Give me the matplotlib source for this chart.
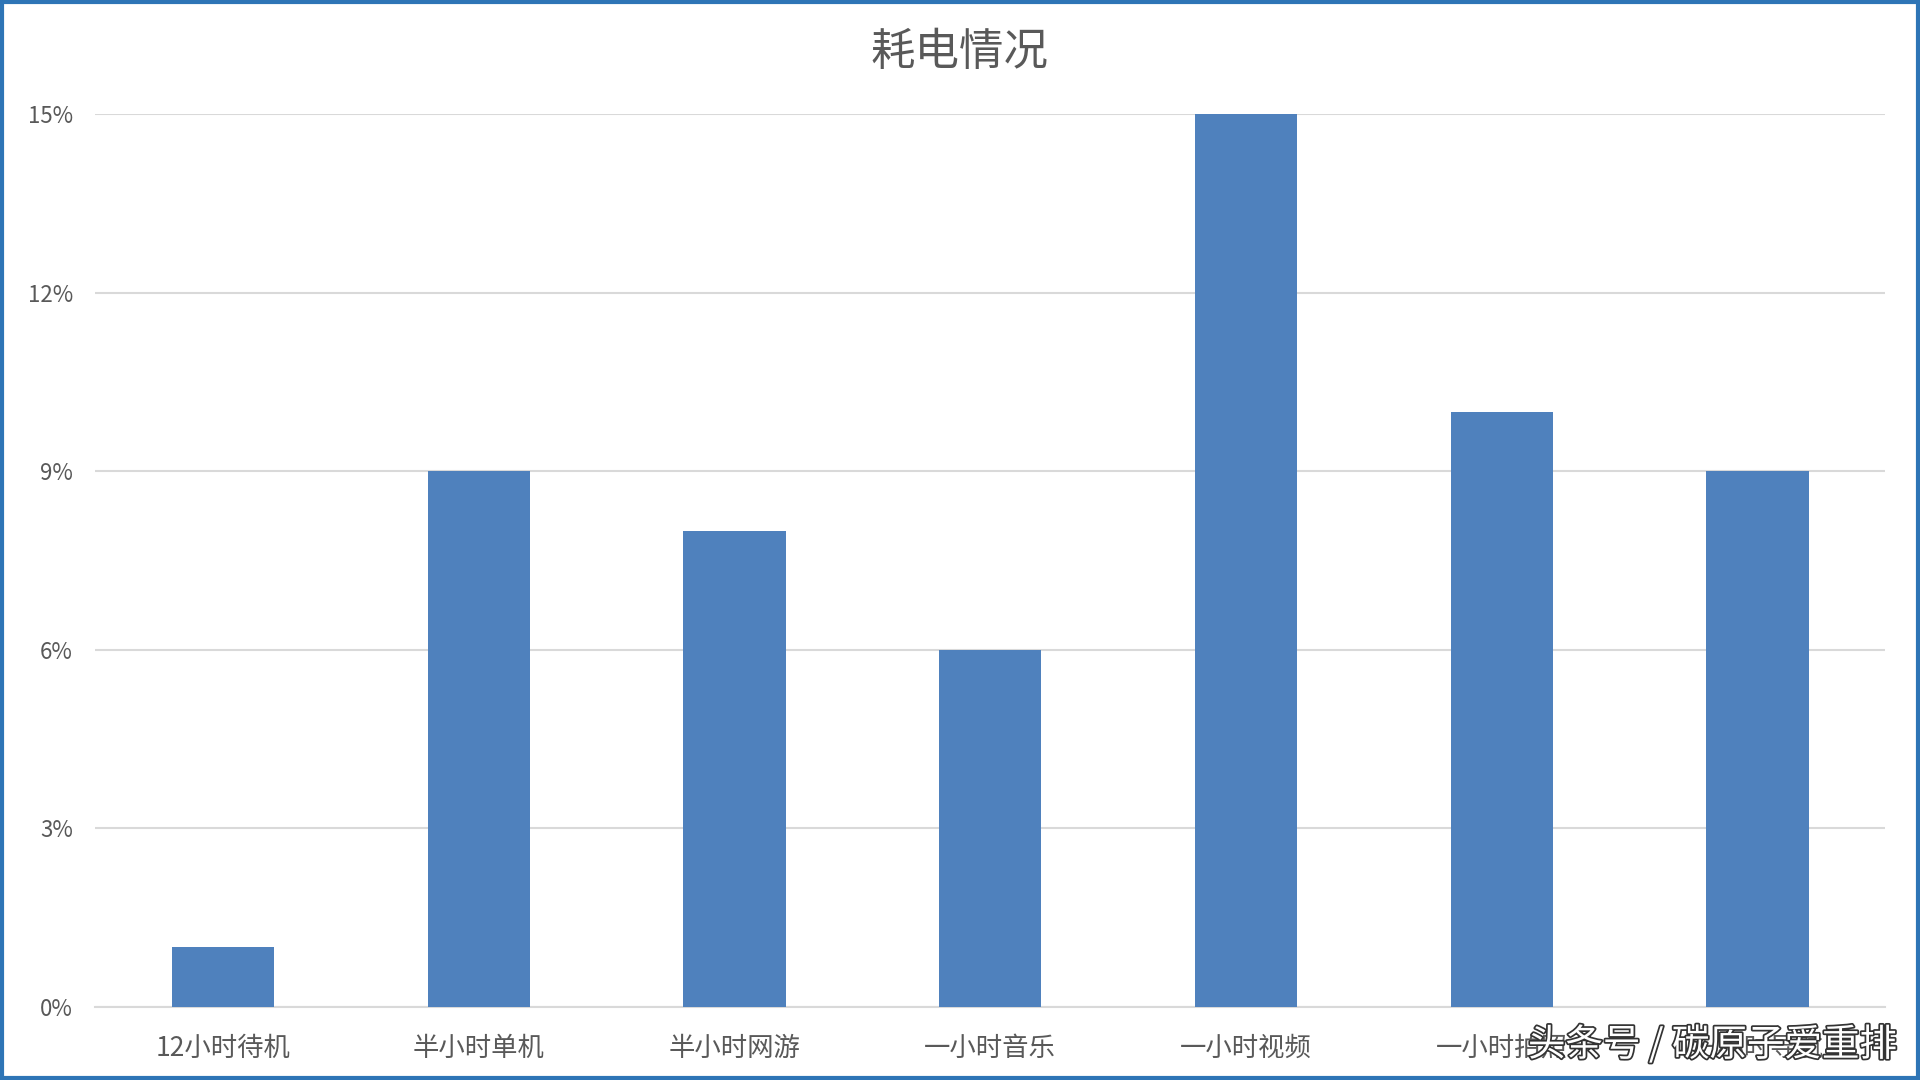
import numpy as np
import matplotlib

matplotlib.use("Agg")

import matplotlib.pyplot as plt
import matplotlib.patheffects as pe
from matplotlib.patches import Rectangle

plt.rcParams['font.family'] = ['Noto Sans CJK SC', 'DejaVu Sans']

# ----- data -----
categories = ["12小时待机", "半小时单机", "半小时网游", "一小时音乐",
              "一小时视频", "一小时拍照", "一小时导航"]
values = [1, 9, 8, 6, 15, 10, 9]          # percent
y_ticks = [0, 3, 6, 9, 12, 15]
y_tick_labels = [f"{t}%" for t in y_ticks]

title = "耗电情况"
watermark = "头条号 / 碳原子爱重排"

# ----- plotting -----
fig = plt.figure(figsize=(19.2, 10.8), dpi=100)
ax = fig.add_axes([0.0495, 0.0676, 0.9325, 0.8268])

x = np.arange(len(categories))
ax.bar(x, values, width=0.4, color="#4F81BD", zorder=3)

ax.set_xlim(-0.5, len(categories) - 0.5)
ax.set_ylim(0, 15)
ax.set_yticks(y_ticks)
ax.set_yticklabels(y_tick_labels)
ax.set_xticks(x)
ax.set_xticklabels(categories)

ax.tick_params(axis="y", length=0, pad=16, labelsize=16, labelcolor="#595959")
ax.tick_params(axis="x", length=0, pad=20, labelsize=19, labelcolor="#595959")

ax.grid(True, axis="y", color="#D9D9D9", linewidth=1.5, zorder=0)
for side in ["left", "right", "top"]:
    ax.spines[side].set_visible(False)
ax.spines["bottom"].set_color("#D9D9D9")
ax.spines["bottom"].set_linewidth(1.5)

fig.text(0.4995, 0.952, title, ha="center", va="center",
         fontsize=32, color="#595959")

# watermark laid over the last labels, as in the source picture
wm = fig.text(0.988, 0.032, watermark, ha="right", va="center",
              fontsize=27, color="white")
wm.set_path_effects([pe.withStroke(linewidth=2.5, foreground="#333333")])

# blue frame around the picture
fig.patches.append(Rectangle((0.001, 0.002), 0.998, 0.996, transform=fig.transFigure,
                             fill=False, edgecolor="#2E75B6", linewidth=3))

fig.savefig("out.png", dpi=100)
